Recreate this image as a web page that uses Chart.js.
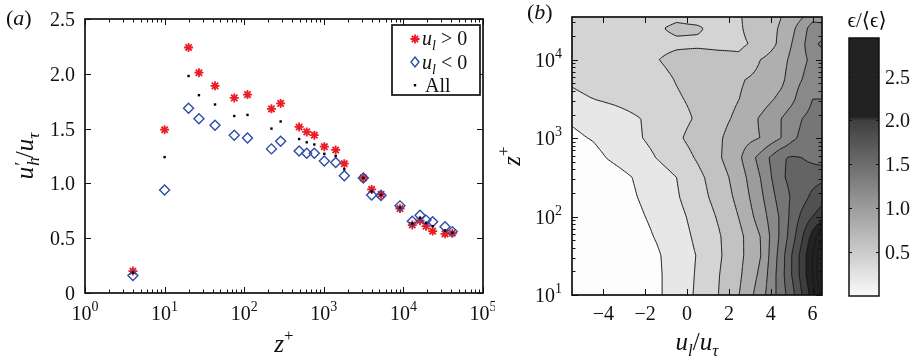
<!DOCTYPE html>
<html><head><meta charset="utf-8">
<script src="https://cdn.jsdelivr.net/npm/chart.js@4.4.0/dist/chart.umd.min.js"></script>
<style>
html,body{margin:0;padding:0;background:#fff;}
#wrap{position:relative;width:919px;height:361px;overflow:hidden;background:#fff;}
canvas{position:absolute;top:0;}
</style></head><body>
<div id="wrap">
<canvas id="ca" style="left:0px" width="495" height="361"></canvas>
<canvas id="cb" style="left:495px" width="335" height="361"></canvas>
<canvas id="cc" style="left:830px" width="89" height="361"></canvas>
</div>
<script>
// ---------------- Panel (a) data ----------------
const zPlus = [4, 10, 20, 27, 43, 75, 110, 220, 287, 490, 610, 760, 1015, 1410, 1810, 3140, 3990, 5230, 9060, 12940, 16180, 19240, 23330, 33340, 41180];
const uhPos = [0.20, 1.49, 2.24, 2.01, 1.89, 1.78, 1.81, 1.68, 1.73, 1.515, 1.47, 1.44, 1.335, 1.305, 1.18, 1.05, 0.945, 0.90, 0.77, 0.62, 0.66, 0.61, 0.565, 0.54, 0.545];
const uhNeg = [0.16, 0.94, 1.685, 1.59, 1.53, 1.44, 1.415, 1.315, 1.385, 1.295, 1.275, 1.275, 1.205, 1.19, 1.07, 1.05, 0.895, 0.89, 0.795, 0.655, 0.71, 0.665, 0.65, 0.605, 0.56];
const uhAll = [0.185, 1.24, 1.98, 1.805, 1.72, 1.615, 1.625, 1.50, 1.565, 1.405, 1.375, 1.355, 1.27, 1.25, 1.13, 1.05, 0.925, 0.895, 0.78, 0.635, 0.685, 0.64, 0.61, 0.57, 0.55];
const aXTicks = [1, 10, 100, 1000, 10000, 100000];
const aXExps = ['0', '1', '2', '3', '4', '5'];
const aYTicks = [0, 0.5, 1, 1.5, 2, 2.5];
const aYLabels = ['0', '0.5', '1.0', '1.5', '2.0', '2.5'];

// ---------------- Panel (b) data: eps/<eps> on a (z+, u_l/u_tau) grid ----------------
const uCols = [-5.5, -4.5, -3.5, -2.5, -1.5, -0.5, 0.5, 1.5, 2.5, 3.5, 4.5, 5.0, 5.5, 6.0, 6.5];
const zRows = [10, 18, 32, 56, 100, 178, 316, 562, 1000, 1778, 3162, 5623, 10000, 15850, 25120, 39810];
const epsRow00 = [0.02,0.03,0.05,0.10,0.16,0.29,0.43,0.60,0.80,1.10,1.50,1.72,2.00,2.30,2.70];
const epsRow01 = [0.02,0.03,0.05,0.10,0.16,0.29,0.42,0.59,0.77,1.04,1.52,1.80,2.08,2.40,2.90];
const epsRow02 = [0.02,0.03,0.05,0.10,0.17,0.29,0.41,0.57,0.75,0.99,1.50,1.80,2.08,2.40,2.85];
const epsRow03 = [0.02,0.04,0.07,0.12,0.21,0.31,0.44,0.58,0.75,1.00,1.45,1.70,1.98,2.28,2.60];
const epsRow04 = [0.03,0.06,0.10,0.16,0.24,0.34,0.47,0.62,0.81,1.09,1.44,1.66,1.85,2.00,2.10];
const epsRow05 = [0.03,0.07,0.12,0.19,0.27,0.38,0.52,0.67,0.86,1.15,1.50,1.62,1.72,1.85,1.95];
const epsRow06 = [0.04,0.08,0.13,0.21,0.30,0.40,0.55,0.70,0.90,1.20,1.57,1.65,1.70,1.72,1.75];
const epsRow07 = [0.09,0.15,0.23,0.30,0.40,0.50,0.62,0.77,0.97,1.27,1.58,1.62,1.60,1.55,1.50];
const epsRow08 = [0.17,0.21,0.28,0.37,0.45,0.57,0.67,0.77,0.92,1.00,1.20,1.35,1.45,1.55,1.50];
const epsRow09 = [0.22,0.26,0.31,0.38,0.45,0.54,0.62,0.73,0.85,1.02,1.20,1.30,1.40,1.45,1.45];
const epsRow10 = [0.37,0.40,0.44,0.48,0.52,0.58,0.64,0.70,0.80,0.90,1.05,1.15,1.30,1.40,1.40];
const epsRow11 = [0.42,0.45,0.47,0.50,0.54,0.61,0.67,0.72,0.78,0.85,0.95,1.10,1.20,1.30,1.35];
const epsRow12 = [0.42,0.47,0.50,0.54,0.59,0.65,0.68,0.66,0.63,0.80,0.92,1.05,1.15,1.25,1.30];
const epsRow13 = [0.42,0.48,0.50,0.52,0.55,0.57,0.57,0.56,0.57,0.64,0.85,1.00,1.15,1.35,1.45];
const epsRow14 = [0.45,0.58,0.55,0.50,0.58,0.63,0.62,0.55,0.58,0.70,0.82,0.95,1.10,1.30,1.25];
const epsRow15 = [0.45,0.50,0.50,0.48,0.52,0.55,0.52,0.50,0.59,0.70,0.79,0.87,0.94,1.05,1.10];
const epsGrid = [epsRow00,epsRow01,epsRow02,epsRow03,epsRow04,epsRow05,epsRow06,epsRow07,
                 epsRow08,epsRow09,epsRow10,epsRow11,epsRow12,epsRow13,epsRow14,epsRow15];
const contourLevels = [0.2,0.4,0.6,0.8,1.0,1.2,1.4,1.6,1.8,2.0,2.2,2.4,2.6,2.8];
const bXTicks = [-4, -2, 0, 2, 4, 6];
const bXLabels = ['\u22124', '\u22122', '0', '2', '4', '6'];
const bYTicks = [10, 100, 1000, 10000];
const bYExps = ['1', '2', '3', '4'];
const cbMax = 2.94;
const cbTicks = [0.5, 1, 1.5, 2, 2.5];
const cbLabels = ['0.5', '1.0', '1.5', '2.0', '2.5'];

// ---------------- helpers ----------------
const SERIF = "'Liberation Serif','DejaVu Serif','DejaVu Sans',serif";
function fnt(sz, it){ return (it ? 'italic ' : '') + sz + 'px ' + SERIF; }
function runsWidth(ctx, runs){
  let w = 0;
  for (const r of runs){ ctx.font = fnt(r.s, r.it); if (r.adv !== false) w += ctx.measureText(r.t).width; }
  return w;
}
function drawRuns(ctx, runs, x, y, align){
  const w = runsWidth(ctx, runs);
  let cx = align === 'center' ? x - w / 2 : (align === 'right' ? x - w : x);
  ctx.textAlign = 'left'; ctx.textBaseline = 'alphabetic'; ctx.fillStyle = '#111';
  for (const r of runs){
    ctx.font = fnt(r.s, r.it);
    ctx.fillText(r.t, cx + (r.dx || 0), y + (r.dy || 0));
    if (r.adv !== false) cx += ctx.measureText(r.t).width;
  }
}
function powRuns(e){ return [{t:'10', s:20}, {t:e, s:14, dy:-9}]; }
function grayOf(v){ return v > 2.02 ? 34 : Math.round(250 - 94 * v); }
function minorLogTicks(lo, hi){
  const out = [];
  for (let d = Math.floor(Math.log10(lo)); d <= Math.ceil(Math.log10(hi)); d++){
    for (let m = 2; m <= 9; m++){ const v = m * Math.pow(10, d); if (v > lo && v < hi) out.push(v); }
  }
  return out;
}
function frameAndTicks(ctx, a, xs, ys, xMaj, xMin, yMaj, yMin){
  ctx.save();
  ctx.strokeStyle = '#111'; ctx.lineWidth = 1;
  ctx.beginPath();
  const tick = (vals, len, isX) => {
    for (const v of vals){
      if (isX){
        const p = Math.round(xs.getPixelForValue(v)) + 0.5;
        ctx.moveTo(p, a.bottom); ctx.lineTo(p, a.bottom - len);
        ctx.moveTo(p, a.top); ctx.lineTo(p, a.top + len);
      } else {
        const p = Math.round(ys.getPixelForValue(v)) + 0.5;
        ctx.moveTo(a.left, p); ctx.lineTo(a.left + len, p);
        ctx.moveTo(a.right, p); ctx.lineTo(a.right - len, p);
      }
    }
  };
  tick(xMaj, 6, true); tick(xMin, 3.5, true); tick(yMaj, 6, false); tick(yMin, 3.5, false);
  ctx.stroke();
  ctx.lineWidth = 1.7;
  ctx.strokeRect(a.left, a.top, a.right - a.left, a.bottom - a.top);
  ctx.restore();
}

// ---------------- Panel (a) ----------------
const panelA = {
  id: 'panelA',
  afterDraw(chart){
    const {ctx, chartArea: a, scales: {x, y}} = chart;
    frameAndTicks(ctx, a, x, y, aXTicks, minorLogTicks(1, 1e5), aYTicks, []);
    ctx.save();
    // tick labels
    aYTicks.forEach((v, i) => {
      ctx.font = fnt(20); ctx.fillStyle = '#111'; ctx.textAlign = 'right'; ctx.textBaseline = 'alphabetic';
      ctx.fillText(aYLabels[i], a.left - 10, y.getPixelForValue(v) + 7);
    });
    aXTicks.forEach((v, i) => drawRuns(ctx, powRuns(aXExps[i]), x.getPixelForValue(v), a.bottom + 27, 'center'));
    // titles
    drawRuns(ctx, [{t:'z', it:true, s:25}, {t:'+', s:17, dy:-11}], (a.left + a.right) / 2, 352, 'center');
    ctx.save(); ctx.translate(33, (a.top + a.bottom) / 2); ctx.rotate(-Math.PI / 2);
    drawRuns(ctx, [{t:'u', it:true, s:25}, {t:'\u2032', s:19, dy:-5, dx:1, adv:false}, {t:'h', it:true, s:17, dy:6, dx:1},
                   {t:'/', s:25}, {t:'u', it:true, s:25}, {t:'\u03c4', it:true, s:17, dy:6}], 0, 0, 'center');
    ctx.restore();
    drawRuns(ctx, [{t:'(', s:22}, {t:'a', it:true, s:22}, {t:')', s:22}], 6, 25, 'left');
    // legend
    const L = 392, T = 25, R = 480, B = 95;
    ctx.fillStyle = '#fff'; ctx.fillRect(L, T, R - L, B - T);
    ctx.strokeStyle = '#111'; ctx.lineWidth = 1.7; ctx.strokeRect(L, T, R - L, B - T);
    const mx = 415;
    // star
    ctx.strokeStyle = '#ec1c24'; ctx.lineWidth = 1.8; ctx.beginPath();
    for (let k = 0; k < 4; k++){ const an = k * Math.PI / 4; ctx.moveTo(mx - 4.5 * Math.cos(an), 39 - 4.5 * Math.sin(an)); ctx.lineTo(mx + 4.5 * Math.cos(an), 39 + 4.5 * Math.sin(an)); }
    ctx.stroke();
    // diamond
    ctx.strokeStyle = '#2c4ca8'; ctx.lineWidth = 1.4; ctx.beginPath();
    ctx.moveTo(mx, 57); ctx.lineTo(mx + 4, 62); ctx.lineTo(mx, 67); ctx.lineTo(mx - 4, 62); ctx.closePath(); ctx.stroke();
    // dot
    ctx.fillStyle = '#000'; ctx.fillRect(mx - 1.2, 84, 2.4, 2.4);
    drawRuns(ctx, [{t:'u', it:true, s:20}, {t:'l', it:true, s:14, dy:5}, {t:' > 0', s:20}], 422, 45, 'left');
    drawRuns(ctx, [{t:'u', it:true, s:20}, {t:'l', it:true, s:14, dy:5}, {t:' < 0', s:20}], 422, 69, 'left');
    drawRuns(ctx, [{t:'All', s:20}], 425, 92, 'left');
    ctx.restore();
  }
};
const ptsOf = arr => zPlus.map((z, i) => ({x: z, y: arr[i]}));
new Chart(document.getElementById('ca'), {
  type: 'scatter',
  data: { datasets: [
    { label: 'u_l > 0', data: ptsOf(uhPos), pointStyle: 'star', pointRadius: 4.5, pointBorderColor: '#ec1c24', pointBackgroundColor: '#ec1c24', pointBorderWidth: 1.8, order: 3 },
    { label: 'u_l < 0', data: ptsOf(uhNeg), pointStyle: 'rectRot', pointRadius: 5, pointBorderColor: '#2c4ca8', pointBackgroundColor: 'rgba(0,0,0,0)', pointBorderWidth: 1.4, order: 2 },
    { label: 'All', data: ptsOf(uhAll), pointStyle: 'rect', pointRadius: 1.7, pointBorderColor: '#000', pointBackgroundColor: '#000', pointBorderWidth: 0, order: 1 }
  ]},
  options: {
    responsive: false, animation: false, devicePixelRatio: 1, events: [],
    layout: { padding: { left: 85, right: 12, top: 19, bottom: 68 } },
    plugins: { legend: { display: false }, tooltip: { enabled: false } },
    scales: {
      x: { type: 'logarithmic', min: 1, max: 1e5, ticks: { display: false }, grid: { display: false }, border: { display: false }, afterFit(s){ s.height = 0; } },
      y: { type: 'linear', min: 0, max: 2.5, ticks: { display: false }, grid: { display: false }, border: { display: false }, afterFit(s){ s.width = 0; } }
    }
  },
  plugins: [panelA]
});

// ---------------- Panel (b) ----------------
const lzRows = zRows.map(z => Math.log10(z));
function locate(arr, v){
  if (v <= arr[0]) return [0, 0];
  if (v >= arr[arr.length - 1]) return [arr.length - 2, 1];
  let i = 0; while (arr[i + 1] < v) i++;
  return [i, (v - arr[i]) / (arr[i + 1] - arr[i])];
}
function fieldAt(u, lz){
  const [ci, tu] = locate(uCols, u);
  const [ri, tz] = locate(lzRows, lz);
  const r0 = epsGrid[ri], r1 = epsGrid[ri + 1];
  const a = r0[ci] + (r0[ci + 1] - r0[ci]) * tu;
  const b = r1[ci] + (r1[ci + 1] - r1[ci]) * tu;
  return a + (b - a) * tz;
}
const panelB = {
  id: 'panelB',
  beforeDatasetsDraw(chart){
    const {ctx, chartArea: ar, scales: {x, y}} = chart;
    const L = Math.round(ar.left), T = Math.round(ar.top), R = Math.round(ar.right), B = Math.round(ar.bottom);
    const W = R - L, H = B - T;
    const img = ctx.createImageData(W, H);
    const vals = new Float32Array(W * H);
    const us = []; for (let i = 0; i < W; i++) us.push(x.getValueForPixel(L + i + 0.5));
    for (let j = 0; j < H; j++){
      const lz = Math.log10(y.getValueForPixel(T + j + 0.5));
      for (let i = 0; i < W; i++){
        const v = fieldAt(us[i], lz);
        vals[j * W + i] = v;
        let band = 0; while (band < contourLevels.length && v >= contourLevels[band]) band++;
        const g = band === 0 ? 253 : grayOf(contourLevels[band - 1]);
        const k = (j * W + i) * 4;
        img.data[k] = g; img.data[k + 1] = g; img.data[k + 2] = g; img.data[k + 3] = 255;
      }
    }
    ctx.putImageData(img, L, T);
    // contour lines (marching squares)
    const s = 2;
    const xi = []; for (let i = 0; i < W; i += s) xi.push(i); if (xi[xi.length - 1] !== W - 1) xi.push(W - 1);
    const yi = []; for (let j = 0; j < H; j += s) yi.push(j); if (yi[yi.length - 1] !== H - 1) yi.push(H - 1);
    ctx.save();
    ctx.beginPath(); ctx.rect(L, T, W, H); ctx.clip();
    ctx.beginPath();
    for (const lev of contourLevels){
      for (let jj = 0; jj < yi.length - 1; jj++){
        for (let ii = 0; ii < xi.length - 1; ii++){
          const x0 = xi[ii], x1 = xi[ii + 1], y0 = yi[jj], y1 = yi[jj + 1];
          const a = vals[y0 * W + x0], b = vals[y0 * W + x1], c = vals[y1 * W + x1], d = vals[y1 * W + x0];
          const p = [];
          if ((a >= lev) !== (b >= lev)){ const t = (lev - a) / (b - a); p.push([x0 + t * (x1 - x0), y0]); }
          if ((b >= lev) !== (c >= lev)){ const t = (lev - b) / (c - b); p.push([x1, y0 + t * (y1 - y0)]); }
          if ((c >= lev) !== (d >= lev)){ const t = (lev - c) / (d - c); p.push([x1 + t * (x0 - x1), y1]); }
          if ((d >= lev) !== (a >= lev)){ const t = (lev - d) / (a - d); p.push([x0, y1 + t * (y0 - y1)]); }
          for (let k = 0; k + 1 < p.length; k += 2){
            ctx.moveTo(L + p[k][0] + 0.5, T + p[k][1] + 0.5);
            ctx.lineTo(L + p[k + 1][0] + 0.5, T + p[k + 1][1] + 0.5);
          }
        }
      }
    }
    ctx.strokeStyle = '#151515'; ctx.lineWidth = 1; ctx.stroke();
    ctx.restore();
  },
  afterDraw(chart){
    const {ctx, chartArea: a, scales: {x, y}} = chart;
    frameAndTicks(ctx, a, x, y, bXTicks, [], bYTicks, minorLogTicks(10, 35000));
    ctx.save();
    bXTicks.forEach((v, i) => {
      ctx.font = fnt(20); ctx.fillStyle = '#111'; ctx.textAlign = 'center'; ctx.textBaseline = 'alphabetic';
      ctx.fillText(bXLabels[i], x.getPixelForValue(v), a.bottom + 25);
    });
    bYTicks.forEach((v, i) => drawRuns(ctx, powRuns(bYExps[i]), a.left - 10, y.getPixelForValue(v) + 7, 'right'));
    drawRuns(ctx, [{t:'u', it:true, s:25}, {t:'l', it:true, s:17, dy:6}, {t:'/', s:25}, {t:'u', it:true, s:25}, {t:'\u03c4', it:true, s:17, dy:6}], (a.left + a.right) / 2, 350, 'center');
    ctx.save(); ctx.translate(25, (a.top + a.bottom) / 2); ctx.rotate(-Math.PI / 2);
    drawRuns(ctx, [{t:'z', it:true, s:25}, {t:'+', s:17, dy:-11}], 0, 0, 'center');
    ctx.restore();
    drawRuns(ctx, [{t:'(', s:22}, {t:'b', it:true, s:22}, {t:')', s:22}], 32, 19, 'left');
    ctx.restore();
  }
};
new Chart(document.getElementById('cb'), {
  type: 'scatter',
  data: { datasets: [{ label: 'eps', data: [], pointRadius: 0 }] },
  options: {
    responsive: false, animation: false, devicePixelRatio: 1, events: [],
    layout: { padding: { left: 77, right: 8, top: 17, bottom: 66 } },
    plugins: { legend: { display: false }, tooltip: { enabled: false } },
    scales: {
      x: { type: 'linear', min: -5.5, max: 6.45, ticks: { display: false }, grid: { display: false }, border: { display: false }, afterFit(s){ s.height = 0; } },
      y: { type: 'logarithmic', min: 10, max: 35000, ticks: { display: false }, grid: { display: false }, border: { display: false }, afterFit(s){ s.width = 0; } }
    }
  },
  plugins: [panelB]
});

// ---------------- Colorbar ----------------
const cbPlugin = {
  id: 'cbar',
  afterDraw(chart){
    const {ctx, chartArea: a, scales: {y}} = chart;
    ctx.save();
    ctx.strokeStyle = '#111'; ctx.lineWidth = 1; ctx.beginPath();
    cbTicks.forEach(v => {
      const p = Math.round(y.getPixelForValue(v)) + 0.5;
      ctx.moveTo(a.left, p); ctx.lineTo(a.left + 3, p);
      ctx.moveTo(a.right, p); ctx.lineTo(a.right - 3, p);
    });
    ctx.stroke();
    ctx.lineWidth = 1.5; ctx.strokeRect(a.left, a.top, a.right - a.left, a.bottom - a.top);
    cbTicks.forEach((v, i) => {
      ctx.font = fnt(20); ctx.fillStyle = '#111'; ctx.textAlign = 'left'; ctx.textBaseline = 'alphabetic';
      ctx.fillText(cbLabels[i], a.right + 6, y.getPixelForValue(v) + 7);
    });
    drawRuns(ctx, [{t:'\u03f5', s:21}, {t:'/', s:21}, {t:'\u27e8', s:21}, {t:'\u03f5', s:21}, {t:'\u27e9', s:21}], 37, 27, 'center');
    ctx.restore();
  }
};
new Chart(document.getElementById('cc'), {
  type: 'bar',
  data: { labels: [''], datasets: [{
    data: [[0, cbMax]],
    backgroundColor: (c) => {
      const ch = c.chart; if (!ch.chartArea) return '#888';
      const ys = ch.scales.y;
      const g = ch.ctx.createLinearGradient(0, ys.getPixelForValue(0), 0, ys.getPixelForValue(cbMax));
      for (let v = 0; v <= 2.0001; v += 0.05){ const q = Math.round(250 - 94 * v); g.addColorStop(v / cbMax, `rgb(${q},${q},${q})`); }
      g.addColorStop(2.04 / cbMax, 'rgb(34,34,34)'); g.addColorStop(1, 'rgb(34,34,34)');
      return g;
    },
    borderWidth: 0, barPercentage: 1, categoryPercentage: 1
  }]},
  options: {
    responsive: false, animation: false, devicePixelRatio: 1, events: [],
    layout: { padding: { left: 19, right: 40, top: 38, bottom: 65 } },
    plugins: { legend: { display: false }, tooltip: { enabled: false } },
    scales: {
      x: { display: false },
      y: { min: 0, max: cbMax, ticks: { display: false }, grid: { display: false }, border: { display: false }, afterFit(s){ s.width = 0; } }
    }
  },
  plugins: [cbPlugin]
});
</script>
</body></html>
